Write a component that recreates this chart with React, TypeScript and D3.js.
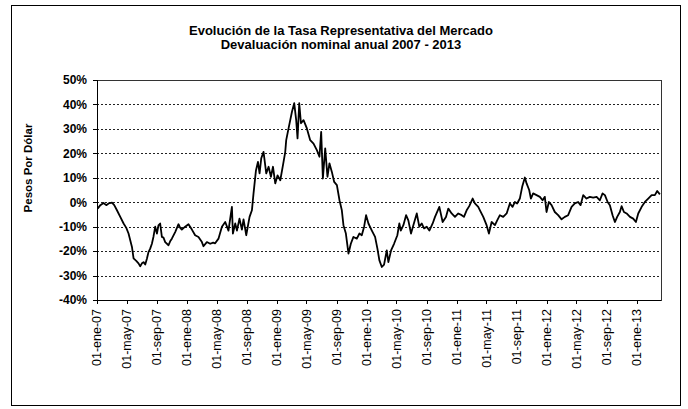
import React from "react";
import * as d3 from "d3";

const titleLines = [
  "Evolución de la Tasa Representativa del Mercado",
  "Devaluación nominal anual 2007 - 2013",
];
const yAxisTitle = "Pesos Por Dólar";
const monthAbbr = ["ene", "feb", "mar", "abr", "may", "jun", "jul", "ago", "sep", "oct", "nov", "dic"];
const yTickValues = [-40, -30, -20, -10, 0, 10, 20, 30, 40, 50];
const xDomainStart = new Date(2007, 0, 1);
const xDomainEnd = new Date(2013, 3, 10);

// observation time as decimal year
const obsTime = [
  2007.007, 2007.037, 2007.073, 2007.103, 2007.129, 2007.167, 2007.192, 2007.222, 2007.259, 2007.296,
  2007.326, 2007.351, 2007.389, 2007.407, 2007.437, 2007.462, 2007.481, 2007.5, 2007.518, 2007.537,
  2007.556, 2007.573, 2007.592, 2007.611, 2007.629, 2007.648, 2007.667, 2007.684, 2007.703, 2007.722,
  2007.74, 2007.759, 2007.796, 2007.814, 2007.833, 2007.87, 2007.907, 2007.926, 2007.944, 2007.981,
  2008.018, 2008.056, 2008.092, 2008.129, 2008.167, 2008.184, 2008.222, 2008.259, 2008.292, 2008.314,
  2008.351, 2008.389, 2008.426, 2008.462, 2008.5, 2008.511, 2008.537, 2008.556, 2008.584, 2008.611,
  2008.629, 2008.659, 2008.696, 2008.722, 2008.74, 2008.767, 2008.789, 2008.807, 2008.826, 2008.851,
  2008.881, 2008.907, 2008.933, 2008.956, 2008.981, 2009.007, 2009.037, 2009.067, 2009.092, 2009.103,
  2009.129, 2009.167, 2009.192, 2009.214, 2009.229, 2009.248, 2009.267, 2009.296, 2009.333, 2009.37,
  2009.407, 2009.444, 2009.473, 2009.492, 2009.511, 2009.537, 2009.562, 2009.584, 2009.611, 2009.637,
  2009.667, 2009.696, 2009.722, 2009.74, 2009.767, 2009.796, 2009.822, 2009.851, 2009.889, 2009.918,
  2009.944, 2009.97, 2009.992, 2010.018, 2010.056, 2010.092, 2010.118, 2010.14, 2010.167, 2010.192,
  2010.222, 2010.24, 2010.27, 2010.303, 2010.34, 2010.362, 2010.378, 2010.407, 2010.437, 2010.462,
  2010.492, 2010.518, 2010.556, 2010.584, 2010.611, 2010.637, 2010.667, 2010.696, 2010.733, 2010.759,
  2010.807, 2010.844, 2010.881, 2010.907, 2010.944, 2010.981, 2011.018, 2011.056, 2011.081, 2011.111,
  2011.14, 2011.178, 2011.203, 2011.24, 2011.259, 2011.296, 2011.333, 2011.359, 2011.389, 2011.426,
  2011.451, 2011.481, 2011.518, 2011.556, 2011.592, 2011.622, 2011.648, 2011.673, 2011.703, 2011.729,
  2011.759, 2011.778, 2011.807, 2011.826, 2011.851, 2011.889, 2011.926, 2011.956, 2011.981, 2012.0,
  2012.026, 2012.056, 2012.092, 2012.129, 2012.167, 2012.203, 2012.24, 2012.278, 2012.314, 2012.351,
  2012.378, 2012.407, 2012.444, 2012.481, 2012.518, 2012.556, 2012.592, 2012.622, 2012.648, 2012.678,
  2012.703, 2012.733, 2012.759, 2012.784, 2012.814, 2012.833, 2012.859, 2012.889, 2012.926, 2012.962,
  2012.992, 2013.018, 2013.056, 2013.092, 2013.129, 2013.167, 2013.203, 2013.229, 2013.259,
];

// annual nominal devaluation, percent
const obsValue = [
  -2.6, -1.2, -0.3, -1.2, -0.5, -0.2, -1.2, -3.3, -6, -8.7,
  -10.5, -12.8, -18.3, -23, -24, -25, -26.2, -25, -24.5, -25.5,
  -23, -20.4, -19, -17, -14, -10, -12.8, -9.5, -8.7, -14.2,
  -14.5, -16.3, -17.6, -16, -14.9, -12.2, -9, -10.5, -11.2, -10,
  -9, -11.2, -13.5, -14.2, -16.3, -18, -16.3, -17, -16.5, -16.8,
  -14.9, -10, -8.1, -11.6, -1.9, -12.8, -8.7, -11.6, -6.7, -11.2,
  -7, -13.5, -6, -3.3, 3.6, 13, 16.5, 11.8, 18, 20.6,
  11.8, 14.5, 10.4, 14.5, 7.7, 11, 9, 15.2, 20.5, 25.4,
  30.2, 37, 40.5, 33.6, 26.1, 40.5, 32.3, 33.6, 30.2, 25.4,
  24, 21.3, 18.6, 28.8, 9.7, 22, 10.4, 15.9, 12.4, 8.3,
  7, 0.8, -3.3, -9.4, -12.8, -21, -17, -14.2, -14.9, -12.8,
  -13.5, -10, -5.3, -8.7, -11.6, -14.2, -19, -23.8, -26.5, -25.5,
  -19.7, -24.5, -19.7, -17, -13.5, -8.7, -11.6, -9.4, -5.3, -7.4,
  -12.8, -9.4, -4.6, -10, -8.7, -10.7, -10, -11.6, -8.7, -6,
  -1.9, -8.1, -6, -2.6, -4.6, -6, -4.6, -5.3, -6, -3.3,
  -1.6, 1.5, -0.5, -1.9, -3.3, -6, -9.4, -12.8, -8.1, -9.4,
  -7.4, -5.3, -6, -4.6, -0.5, -1.9, 0.1, -0.5, 1.5, 6.3,
  10.1, 7.7, 5, 1.5, 3.6, 2.9, 2.2, 0.8, 2.2, -4,
  0.1, -1.2, -4, -5.3, -7, -6, -5.3, -1.9, -0.5, 0.1,
  -1.2, 2.9, 1.5, 2.2, 1.9, 2.2, 0.8, 3.6, 2.9, 0.1,
  -1.2, -5.3, -8.1, -6, -4, -1.6, -4, -4.6, -6, -6.7,
  -8.1, -4.6, -1.9, 0.1, 1.5, 2.9, 2.9, 4.6, 3.2,
];

function decimalYearToDate(t: number): Date {
  const yr = Math.floor(t);
  const a = new Date(yr, 0, 1).getTime();
  const b = new Date(yr + 1, 0, 1).getTime();
  return new Date(a + (t - yr) * (b - a));
}

const W = 688;
const H = 409;
const plot = { left: 97, right: 661, top: 80, bottom: 300 };
const FONT = "'Liberation Sans', Arial, Helvetica, sans-serif";

export default function App() {
  const x = d3.scaleTime().domain([xDomainStart, xDomainEnd]).range([plot.left, plot.right]);
  const y = d3.scaleLinear().domain([-40, 50]).range([plot.bottom, plot.top]);

  const data = obsTime.map((t, i) => ({ date: decimalYearToDate(t), v: obsValue[i] }));
  const line = d3
    .line<{ date: Date; v: number }>()
    .x((d) => x(d.date))
    .y((d) => y(d.v));

  const xTicks = d3.timeMonth.every(4)!.range(xDomainStart, xDomainEnd);
  const fmtX = (d: Date) =>
    `${String(d.getDate()).padStart(2, "0")}-${monthAbbr[d.getMonth()]}-${String(d.getFullYear() % 100).padStart(2, "0")}`;

  return (
    <svg
      width={W}
      height={H}
      style={{ position: "fixed", left: 0, top: 0, background: "#fff" }}
      fontFamily={FONT}
    >
      <rect x={0} y={0} width={W} height={H} fill="#fff" />
      <rect x={11.5} y={5.5} width={669} height={400} fill="none" stroke="#000" strokeWidth={1} />

      {titleLines.map((t, i) => (
        <text key={i} x={341} y={35 + i * 14} textAnchor="middle" fontSize={13} fontWeight="bold" fill="#000">
          {t}
        </text>
      ))}

      {/* gridlines */}
      {yTickValues
        .filter((v) => v > -40 && v < 50)
        .map((v) => (
          <line
            key={v}
            x1={plot.left}
            x2={plot.right}
            y1={Math.round(y(v)) + 0.5}
            y2={Math.round(y(v)) + 0.5}
            stroke="#222"
            strokeWidth={1}
            strokeDasharray="2 2"
          />
        ))}

      {/* plot border */}
      <rect
        x={plot.left + 0.5}
        y={plot.top + 0.5}
        width={plot.right - plot.left}
        height={plot.bottom - plot.top}
        fill="none"
        stroke="#333"
        strokeWidth={1}
      />

      {/* y axis */}
      <line x1={plot.left + 0.5} x2={plot.left + 0.5} y1={plot.top} y2={plot.bottom} stroke="#000" />
      {yTickValues.map((v) => (
        <g key={v}>
          <line
            x1={plot.left - 4}
            x2={plot.left}
            y1={Math.round(y(v)) + 0.5}
            y2={Math.round(y(v)) + 0.5}
            stroke="#000"
          />
          <text x={87} y={y(v)} dy="0.36em" textAnchor="end" fontSize={12} fontWeight="bold" fill="#000">
            {`${v}%`}
          </text>
        </g>
      ))}

      {/* x axis */}
      <line x1={plot.left} x2={plot.right} y1={plot.bottom + 0.5} y2={plot.bottom + 0.5} stroke="#000" />
      {xTicks.map((d, i) => {
        const px = Math.round(x(d)) + 0.5;
        return (
          <g key={i}>
            <line x1={px} x2={px} y1={plot.bottom} y2={plot.bottom + 4} stroke="#000" />
            <text
              transform={`translate(${x(d)},${plot.bottom + 9}) rotate(-90)`}
              dy="0.35em"
              textAnchor="end"
              fontSize={12.5}
              fill="#000"
            >
              {fmtX(d)}
            </text>
          </g>
        );
      })}

      {/* y axis title */}
      <text
        transform={`translate(28,168) rotate(-90)`}
        dy="0.35em"
        textAnchor="middle"
        fontSize={11.5}
        fontWeight="bold"
        fill="#000"
      >
        {yAxisTitle}
      </text>

      {/* series */}
      <path d={line(data) || ""} fill="none" stroke="#000" strokeWidth={1.8} strokeLinejoin="round" />
    </svg>
  );
}
